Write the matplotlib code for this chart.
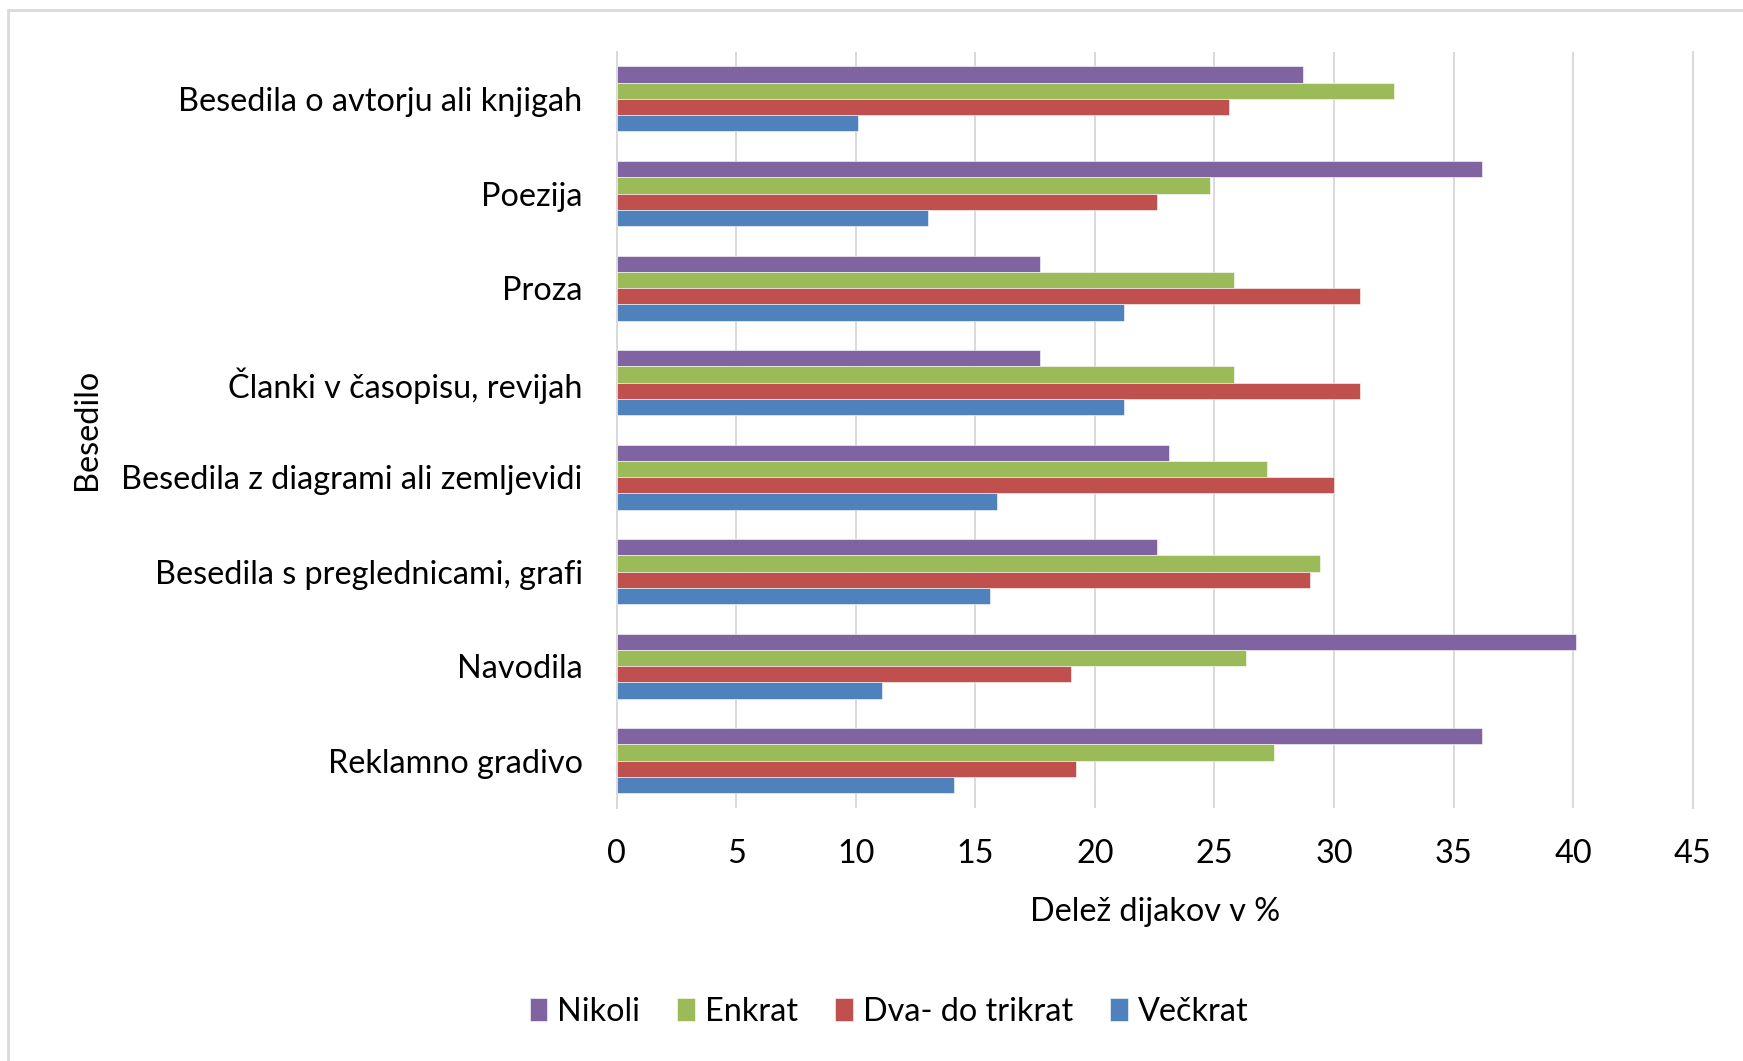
import matplotlib
matplotlib.use("Agg")
import matplotlib.pyplot as plt
from matplotlib.patches import Rectangle
import numpy as np

plt.rcParams['font.family'] = ['Lato', 'DejaVu Sans']

# ---- data (top to bottom as shown) ----
categories = [
    "Besedila o avtorju ali knjigah",
    "Poezija",
    "Proza",
    "Članki v časopisu, revijah",
    "Besedila z diagrami ali zemljevidi",
    "Besedila s preglednicami, grafi",
    "Navodila",
    "Reklamno gradivo",
]
series_names = ["Nikoli", "Enkrat", "Dva- do trikrat", "Večkrat"]
nikoli = [28.7, 36.2, 17.7, 17.7, 23.1, 22.6, 40.1, 36.2]
enkrat = [32.5, 24.8, 25.8, 25.8, 27.2, 29.4, 26.3, 27.5]
dva_do_trikrat = [25.6, 22.6, 31.1, 31.1, 30.0, 29.0, 19.0, 19.2]
veckrat = [10.1, 13.0, 21.2, 21.2, 15.9, 15.6, 11.1, 14.1]
x_ticks = [0, 5, 10, 15, 20, 25, 30, 35, 40, 45]
x_label = "Delež dijakov v %"
y_label = "Besedilo"

colors = ["#8064A2", "#9BBB59", "#C0504D", "#4F81BD"]

W, H = 1743, 1061
fig = plt.figure(figsize=(W / 100, H / 100), dpi=100)
fig.patch.set_facecolor("white")

ax_left, ax_right, ax_top, ax_bottom = 616.7, 1692.7, 51.7, 808.0
ax = fig.add_axes([ax_left / W, 1 - ax_bottom / H,
                   (ax_right - ax_left) / W, (ax_bottom - ax_top) / H])

n = len(categories)
ypos = np.arange(n)[::-1]  # first category on top
h = 0.172
all_series = [nikoli, enkrat, dva_do_trikrat, veckrat]
offsets = [1.5, 0.5, -0.5, -1.5]
for name, vals, col, off in zip(series_names, all_series, colors, offsets):
    ax.barh(ypos + off * h, vals, height=h, color=col, label=name,
            edgecolor="white", linewidth=0.4, zorder=3)

ax.set_xlim(0, 45)
ax.set_ylim(-0.5, n - 0.5)
ax.set_xticks(x_ticks)
ax.set_xticklabels([str(t) for t in x_ticks])
ax.set_yticks(ypos)
ax.set_yticklabels(categories)

fs = 23.3
ax.tick_params(axis="both", length=0, labelsize=fs, colors="black")
ax.tick_params(axis="y", pad=24.5)
ax.tick_params(axis="x", pad=22.5)

ax.xaxis.grid(True, color="#D9D9D9", linewidth=1.4, zorder=0)
ax.yaxis.grid(False)
ax.set_axisbelow(True)
for s in ["top", "bottom"]:
    ax.spines[s].set_visible(False)
for s in ["left", "right"]:
    ax.spines[s].set_color("#D9D9D9")
    ax.spines[s].set_linewidth(1.4)

ax.set_xlabel(x_label, fontsize=fs)
ax.xaxis.set_label_coords(0.5, -(897 - ax_bottom) / (ax_bottom - ax_top))
ax.set_ylabel(y_label, fontsize=fs)
ax.yaxis.set_label_coords((102 - ax_left) / (ax_right - ax_left), 0.5)

leg = fig.legend(loc="center", bbox_to_anchor=(889 / W, 1 - 1012 / H), ncol=4,
                 frameon=False, fontsize=fs, handlelength=0.55, handleheight=0.7,
                 handletextpad=0.3, columnspacing=1.15, borderaxespad=0)

fig.add_artist(Rectangle((8 / W, -0.05), 1.2, (1 - 10 / H) + 0.05,
                         transform=fig.transFigure, fill=False,
                         edgecolor="#D9D9D9", linewidth=2))

fig.savefig("out.png", dpi=100, facecolor="white")
